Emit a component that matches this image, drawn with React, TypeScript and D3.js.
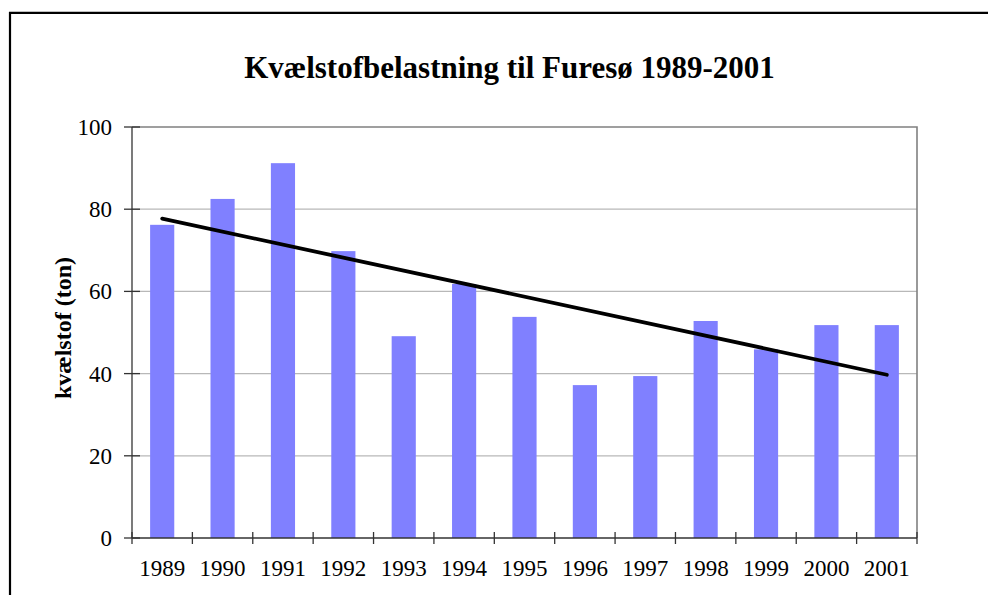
import React from "react";
import * as d3 from "d3";

const years = ["1989","1990","1991","1992","1993","1994","1995","1996","1997","1998","1999","2000","2001"];
const nitrogen = [76.2, 82.5, 91.2, 69.8, 49.1, 61.8, 53.8, 37.2, 39.4, 52.8, 45.9, 51.8, 51.8];
const yTicks = [0, 20, 40, 60, 80, 100];
const title = "Kvælstofbelastning til Furesø 1989-2001";
const yLabel = "kvælstof (ton)";

const W = 988, H = 595;
const plot = { left: 132, right: 917, top: 127, bottom: 538 };
const serif = "'Liberation Serif', 'Times New Roman', serif";

export default function App() {
  const x = d3.scaleBand<string>().domain(years).range([plot.left, plot.right]).paddingInner(0.6).paddingOuter(0.3);
  const step = (plot.right - plot.left) / years.length;
  const y = d3.scaleLinear().domain([0, 100]).range([plot.bottom, plot.top]);

  // linear trend line (least squares)
  const idx = years.map((_, i) => i);
  const mx = d3.mean(idx)!;
  const my = d3.mean(nitrogen)!;
  const sxy = d3.sum(idx, (i) => (i - mx) * (nitrogen[i] - my));
  const sxx = d3.sum(idx, (i) => (i - mx) * (i - mx));
  const slope = sxy / sxx;
  const intercept = my - slope * mx;
  const trendPts: [number, number][] = [0, years.length - 1].map((i) => [
    x(years[i])! + x.bandwidth() / 2,
    y(intercept + slope * i),
  ]);
  const line = d3.line();

  return (
    <svg width={W} height={H} style={{ position: "absolute", left: 0, top: 0 }}>
      <rect x={0} y={0} width={W} height={H} fill="#fff" />
      {/* outer frame */}
      <path d={`M10,${H + 5} L10,12.8 L${W + 5},12.8`} fill="none" stroke="#000" strokeWidth={2.2} />
      {/* title */}
      <text x={509.5} y={78} textAnchor="middle" fontFamily={serif} fontWeight="bold" fontSize={31} fill="#000">
        {title}
      </text>
      {/* gridlines */}
      {yTicks.filter((t) => t > 0 && t < 100).map((t) => (
        <line key={t} x1={plot.left} x2={plot.right} y1={y(t)} y2={y(t)} stroke="#b8b8b8" strokeWidth={1.3} />
      ))}
      {/* plot border top & right */}
      <path d={`M${plot.left},${plot.top} L${plot.right},${plot.top} L${plot.right},${plot.bottom}`} fill="none" stroke="#808080" strokeWidth={1.6} />
      {/* bars */}
      {years.map((yr, i) => (
        <rect key={yr} x={x(yr)} y={y(nitrogen[i])} width={x.bandwidth()} height={y(0) - y(nitrogen[i])} fill="#8080ff" />
      ))}
      {/* trend line */}
      <path d={line(trendPts)!} fill="none" stroke="#000" strokeWidth={3.8} strokeLinecap="round" />
      {/* y axis */}
      <line x1={plot.left} x2={plot.left} y1={plot.top} y2={plot.bottom} stroke="#333" strokeWidth={1.3} />
      {yTicks.map((t) => (
        <g key={t}>
          <line x1={plot.left - 8} x2={plot.left + 8} y1={y(t)} y2={y(t)} stroke="#333" strokeWidth={1.3} />
          <text x={112} y={y(t)} dy="0.35em" textAnchor="end" fontFamily={serif} fontSize={23} fill="#000">
            {t}
          </text>
        </g>
      ))}
      {/* x axis */}
      <line x1={plot.left} x2={plot.right} y1={plot.bottom} y2={plot.bottom} stroke="#333" strokeWidth={1.6} />
      {d3.range(years.length + 1).map((k) => (
        <line key={k} x1={plot.left + k * step} x2={plot.left + k * step} y1={plot.bottom - 6} y2={plot.bottom + 6} stroke="#333" strokeWidth={1.3} />
      ))}
      {years.map((yr) => (
        <text key={yr} x={x(yr)! + x.bandwidth() / 2} y={576} textAnchor="middle" fontFamily={serif} fontSize={23} fill="#000">
          {yr}
        </text>
      ))}
      {/* y label */}
      <text transform={`translate(71,328) rotate(-90)`} textAnchor="middle" fontFamily={serif} fontWeight="bold" fontSize={24} fill="#000">
        {yLabel}
      </text>
    </svg>
  );
}
